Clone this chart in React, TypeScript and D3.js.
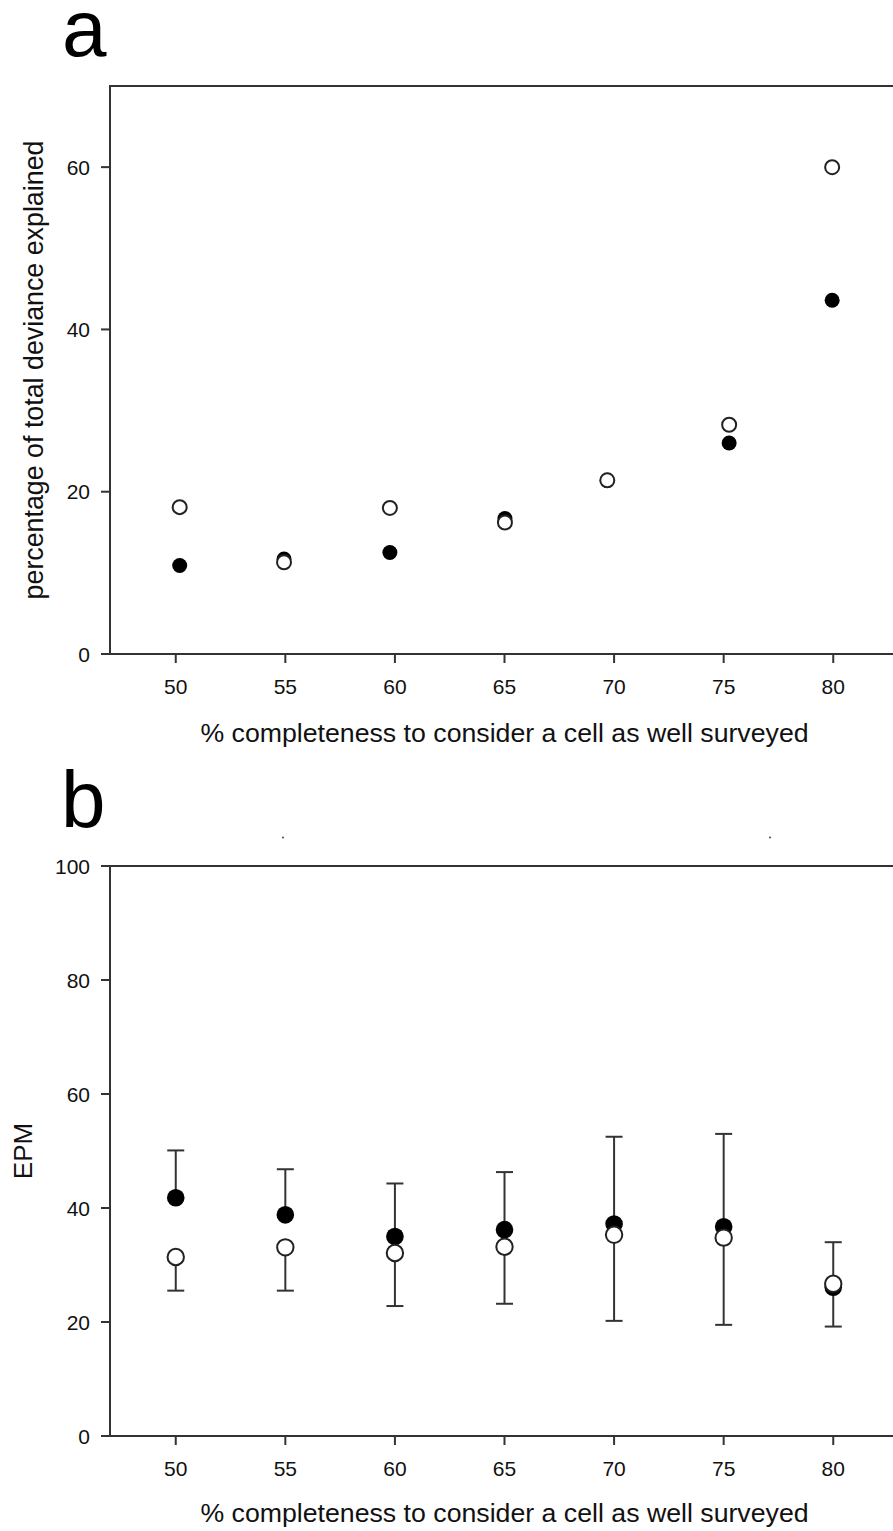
import React from "react";
import * as d3 from "d3";

// ---- data ----
const xTicks = [50, 55, 60, 65, 70, 75, 80];
const yTicksA = [0, 20, 40, 60];
const yTicksB = [0, 20, 40, 60, 80, 100];

// panel a: percentage of total deviance explained
const aOpenX = [50.18, 54.94, 59.77, 65.02, 69.69, 75.25, 79.95];
const aOpenY = [18.1, 11.3, 18.0, 16.2, 21.4, 28.25, 60.0];
const aFilledX = [50.18, 54.94, 59.77, 65.02, 69.69, 75.25, 79.95];
const aFilledY = [10.9, 11.7, 12.5, 16.7, 21.4, 26.0, 43.6];

// panel b: EPM
const bX = [50, 55, 60, 65, 70, 75, 80];
const bFilled = [41.8, 38.8, 35.0, 36.2, 37.2, 36.7, 26.1];
const bOpen = [31.4, 33.1, 32.1, 33.2, 35.3, 34.8, 26.7];
const bUpper = [50.1, 46.8, 44.3, 46.3, 52.5, 53.0, 34.0];
const bLower = [25.5, 25.5, 22.8, 23.2, 20.2, 19.5, 19.2];

const xLabel = "% completeness to consider a cell as well surveyed";
const yLabelA = "percentage of total deviance explained";
const yLabelB = "EPM";

const FONT = "'Liberation Sans', Arial, Helvetica, sans-serif";
const AX = "#333";

export default function App() {
  const W = 893, H = 1531;
  const x = d3.scaleLinear().domain([47, 83]).range([110, 899]);
  const yA = d3.scaleLinear().domain([0, 70]).range([654, 86]);
  const yB = d3.scaleLinear().domain([0, 100]).range([1436, 866]);
  const left = x(47);
  const right = x(83);

  const xAxis = (y0: number, key: string) => (
    <g key={key}>
      {xTicks.map((t) => (
        <g key={t}>
          <line x1={x(t)} x2={x(t)} y1={y0} y2={y0 + 9} stroke={AX} strokeWidth={2} />
          <text x={x(t)} y={y0 + 39.5} textAnchor="middle" fontSize={21} fontFamily={FONT} fill="#111">
            {t}
          </text>
        </g>
      ))}
    </g>
  );

  const yAxis = (scale: d3.ScaleLinear<number, number>, ticks: number[], key: string) => (
    <g key={key}>
      {ticks.map((t) => (
        <g key={t}>
          <line x1={left - 9} x2={left} y1={scale(t)} y2={scale(t)} stroke={AX} strokeWidth={2} />
          <text x={left - 20} y={scale(t)} dy="0.36em" textAnchor="end" fontSize={21} fontFamily={FONT} fill="#111">
            {t}
          </text>
        </g>
      ))}
    </g>
  );

  return (
    <svg width={W} height={H} style={{ position: "absolute", left: 0, top: 0, background: "#fff" }}>
      <rect x={0} y={0} width={W} height={H} fill="#fff" />
      {/* ---------- panel a ---------- */}
      <text x={62} y={56} fontSize={80} fontFamily={FONT} fill="#000">a</text>
      <path d={`M${right},${yA(70)}H${left}V${yA(0)}H${right}`} fill="none" stroke={AX} strokeWidth={2} />
      {yAxis(yA, yTicksA, "ya")}
      {xAxis(yA(0), "xa")}
      <text x={x(65)} y={742} textAnchor="middle" fontSize={26.7} fontFamily={FONT} fill="#111">{xLabel}</text>
      <text transform={`translate(43,${(yA(0) + yA(70)) / 2}) rotate(-90)`} textAnchor="middle" fontSize={26.8} fontFamily={FONT} fill="#111">
        {yLabelA}
      </text>
      {aFilledX.map((v, i) => (
        <circle key={"af" + i} cx={x(v)} cy={yA(aFilledY[i])} r={7.5} fill="#000" />
      ))}
      {aOpenX.map((v, i) => (
        <circle key={"ao" + i} cx={x(v)} cy={yA(aOpenY[i])} r={7} fill="#fff" stroke="#222" strokeWidth={2} />
      ))}

      {/* ---------- panel b ---------- */}
      <text x={61} y={827} fontSize={80} fontFamily={FONT} fill="#000">b</text>
      <circle cx={283} cy={837.5} r={1} fill="#444" />
      <circle cx={770} cy={837.5} r={1} fill="#444" />
      <path d={`M${right},${yB(100)}H${left}V${yB(0)}H${right}`} fill="none" stroke={AX} strokeWidth={2} />
      {yAxis(yB, yTicksB, "yb")}
      {xAxis(yB(0), "xb")}
      <text x={x(65)} y={1522} textAnchor="middle" fontSize={26.7} fontFamily={FONT} fill="#111">{xLabel}</text>
      <text transform={`translate(32,${(yB(0) + yB(100)) / 2}) rotate(-90)`} textAnchor="middle" fontSize={26} fontFamily={FONT} fill="#111">
        {yLabelB}
      </text>
      {bX.map((v, i) => (
        <g key={"eb" + i} stroke={AX} strokeWidth={2}>
          <line x1={x(v)} x2={x(v)} y1={yB(bFilled[i])} y2={yB(bUpper[i])} />
          <line x1={x(v) - 8.5} x2={x(v) + 8.5} y1={yB(bUpper[i])} y2={yB(bUpper[i])} />
          <line x1={x(v)} x2={x(v)} y1={yB(bOpen[i])} y2={yB(bLower[i])} />
          <line x1={x(v) - 8.5} x2={x(v) + 8.5} y1={yB(bLower[i])} y2={yB(bLower[i])} />
        </g>
      ))}
      {bX.map((v, i) => (
        <circle key={"bf" + i} cx={x(v)} cy={yB(bFilled[i])} r={8.8} fill="#000" />
      ))}
      {bX.map((v, i) => (
        <circle key={"bo" + i} cx={x(v)} cy={yB(bOpen[i])} r={8.2} fill="#fff" stroke="#222" strokeWidth={2} />
      ))}
    </svg>
  );
}
